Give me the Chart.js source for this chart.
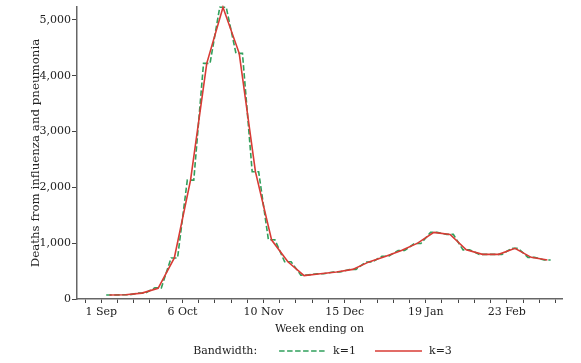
<!DOCTYPE html>
<html>
<head>
<meta charset="utf-8">
<script src="https://cdn.jsdelivr.net/npm/chart.js@4.4.0/dist/chart.umd.min.js"></script>
<style>
  html, body { margin: 0; padding: 0; background: #fff; }
</style>
</head>
<body>
<canvas id="flu" width="581" height="363"></canvas>
<script>
// weeks counted from the week of 1 Sep; values sit at mid-week
const weeks = [0, 1, 2, 3, 4, 5, 6, 7, 8, 9, 10, 11, 12, 13,
               14, 15, 16, 17, 18, 19, 20, 21, 22, 23, 24, 25, 26, 27];
const deathsK1 = [72, 75, 105, 200, 735, 2130, 4220, 5225, 4400, 2280, 1060, 667, 428, 452,
                  483, 528, 662, 765, 870, 995, 1193, 1157, 880, 800, 800, 907, 746, 698];
const deathsK3 = [72, 75, 105, 192, 735, 2130, 4220, 5225, 4400, 2280, 1055, 667, 420, 452,
                  483, 530, 665, 760, 870, 1000, 1193, 1155, 880, 800, 800, 907, 746, 698];
const tickLabels = ['1 Sep', '6 Oct', '10 Nov', '15 Dec', '19 Jan', '23 Feb'];
const yTicks = [0, 1000, 2000, 3000, 4000, 5000];

const FONT = { family: '"DejaVu Serif", serif', size: 11 };
const INK = '#222';

// k=1 is drawn as a short flat piece around each week
const stepPoints = [];
weeks.forEach((w, i) => {
  stepPoints.push({ x: w + 0.3, y: deathsK1[i] });
  stepPoints.push({ x: w + 0.7, y: deathsK1[i] });
});
const smoothPoints = weeks.map((w, i) => ({ x: w + 0.5, y: deathsK3[i] }));

const legendRow = {
  id: 'legendRow',
  afterDraw(chart) {
    const { ctx, chartArea } = chart;
    const y = 351;
    const lineLen = 47;
    ctx.save();
    ctx.font = '11px "DejaVu Serif"';
    ctx.fillStyle = INK;
    ctx.textBaseline = 'middle';
    const lead = 'Bandwidth:';
    const sets = chart.data.datasets;
    let total = ctx.measureText(lead).width + 22;
    sets.forEach((ds, i) => {
      total += lineLen + 7 + ctx.measureText(ds.label).width + (i < sets.length - 1 ? 19 : 0);
    });
    let x = (chartArea.left + chartArea.right) / 2 + 3 - total / 2;
    ctx.fillText(lead, x, y);
    x += ctx.measureText(lead).width + 22;
    sets.forEach(ds => {
      ctx.strokeStyle = ds.borderColor;
      ctx.lineWidth = ds.borderWidth;
      ctx.setLineDash(ds.borderDash || []);
      ctx.beginPath();
      ctx.moveTo(x, y);
      ctx.lineTo(x + lineLen, y);
      ctx.stroke();
      ctx.setLineDash([]);
      x += lineLen + 7;
      ctx.fillText(ds.label, x, y);
      x += ctx.measureText(ds.label).width + 19;
    });
    ctx.restore();
  }
};

new Chart(document.getElementById('flu').getContext('2d'), {
  type: 'line',
  data: {
    datasets: [
      {
        label: 'k=1',
        data: stepPoints,
        borderColor: '#31a05c',
        borderDash: [5.5, 2.5],
        borderWidth: 1.6,
        pointRadius: 0,
        clip: false,
        order: 1
      },
      {
        label: 'k=3',
        data: smoothPoints,
        borderColor: '#d83b35',
        borderWidth: 1.6,
        pointRadius: 0,
        clip: false,
        order: 0
      }
    ]
  },
  options: {
    responsive: false,
    animation: false,
    locale: 'en-US',
    layout: { padding: { left: 29, right: 19, top: 7, bottom: 27.4 } },
    plugins: {
      legend: { display: false },
      tooltip: { enabled: false }
    },
    scales: {
      x: {
        type: 'linear',
        min: -1.5,
        max: 28.4,
        afterBuildTicks: s => {
          s.ticks = [];
          for (let w = -1; w <= 28; w++) s.ticks.push({ value: w });
        },
        afterFit: s => { s.height = 36.6; },
        ticks: {
          autoSkip: false,
          maxRotation: 0,
          padding: 3,
          color: INK,
          font: FONT,
          callback: v => (v >= 0 && v % 5 === 0) ? tickLabels[v / 5] : ''
        },
        grid: { drawOnChartArea: false, tickLength: 4, color: '#444' },
        border: { color: '#666', width: 1.5 },
        title: { display: true, text: 'Week ending on', color: INK, font: FONT, padding: 0 }
      },
      y: {
        min: 0,
        max: 5230,
        afterBuildTicks: s => { s.ticks = yTicks.map(v => ({ value: v })); },
        afterFit: s => { s.width = 48; },
        ticks: {
          padding: 1,
          color: INK,
          font: { ...FONT, lineHeight: 1 },
          callback: v => v.toLocaleString('en-US')
        },
        grid: { drawOnChartArea: false, tickLength: 5, color: '#444' },
        border: { color: '#666', width: 1.5 },
        title: {
          display: true,
          text: 'Deaths from influenza and pneumonia',
          color: INK,
          font: { ...FONT, size: 11.8 },
          padding: 0
        }
      }
    }
  },
  plugins: [legendRow]
});
</script>
</body>
</html>
